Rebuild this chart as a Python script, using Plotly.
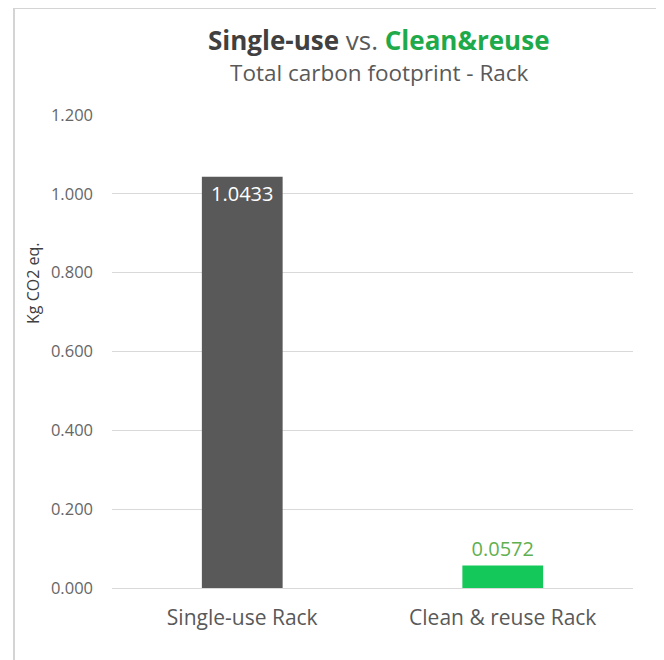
import plotly.graph_objects as go

categories = ["Single-use Rack", "Clean & reuse Rack"]
values = [1.0433, 0.0572]
bar_colors = ["#595959", "#14C85A"]
label_colors = ["#FFFFFF", "#5FB050"]
label_positions = ["inside", "outside"]
y_ticks = [0.0, 0.2, 0.4, 0.6, 0.8, 1.0, 1.2]

FONT = "Open Sans, Noto Sans, DejaVu Sans, sans-serif"
OFF = 8  # default page body margin
L, R, T, B = 112 - OFF, 31, 115 - OFF, 72
W, H = 664 - OFF, 660 - OFF
pw, ph = W - L - R, H - T - B

def px(x):
    return (x - OFF - L) / pw

def py(y):
    return (H - B - (y - OFF)) / ph

fig = go.Figure()
fig.add_trace(go.Bar(
    x=categories, y=values,
    marker=dict(color=bar_colors, line=dict(width=0)),
    texttemplate="%{y:.4f}",
    textposition=label_positions,
    textfont=dict(color=label_colors, size=20, family=FONT),
    insidetextanchor="end",
    cliponaxis=False,
    width=0.31,
))

fig.update_layout(
    width=W, height=H,
    margin=dict(l=L, r=R, t=T, b=B),
    paper_bgcolor="white", plot_bgcolor="white",
    showlegend=False,
    font=dict(family=FONT, color="#595959"),
    uniformtext=dict(minsize=8, mode=False),
    xaxis=dict(showgrid=False, showline=True, linecolor="#d9d9d9", linewidth=1,
               tickfont=dict(size=21, color="#595959"), ticks="", ticklabelstandoff=11,
               fixedrange=True),
    yaxis=dict(range=[0, 1.2], tickvals=y_ticks, tickformat=".3f",
               showgrid=True, gridcolor="#d9d9d9", gridwidth=1, zeroline=False,
               showline=False, ticks="", ticklabelstandoff=18,
               tickfont=dict(size=16.5, color="#666666")),
    annotations=[
        dict(xref="paper", yref="paper", x=px(379), y=py(40), xanchor="center", yanchor="middle",
             showarrow=False,
             text="<b><span style='color:#404040'>Single-use</span></b>"
                  "<span style='color:#595959'> vs. </span>"
                  "<b><span style='color:#1EAA4B'>Clean&amp;reuse</span></b>",
             font=dict(size=26, family=FONT)),
        dict(xref="paper", yref="paper", x=px(379), y=py(72), xanchor="center", yanchor="middle",
             showarrow=False, text="Total carbon footprint - Rack",
             font=dict(size=22.5, color="#595959", family=FONT)),
        dict(xref="paper", yref="paper", x=px(33), y=py(284), xanchor="center", yanchor="middle",
             showarrow=False, text="Kg CO2 eq.", textangle=-90,
             font=dict(size=16, color="#404040", family=FONT)),
    ],
    shapes=[
        dict(type="rect", xref="paper", yref="paper",
             x0=px(14), x1=px(680), y0=py(680), y1=py(8),
             line=dict(color="#d4d4d4", width=2), fillcolor="rgba(0,0,0,0)", layer="below"),
    ],
)

fig.write_html("out.html")
